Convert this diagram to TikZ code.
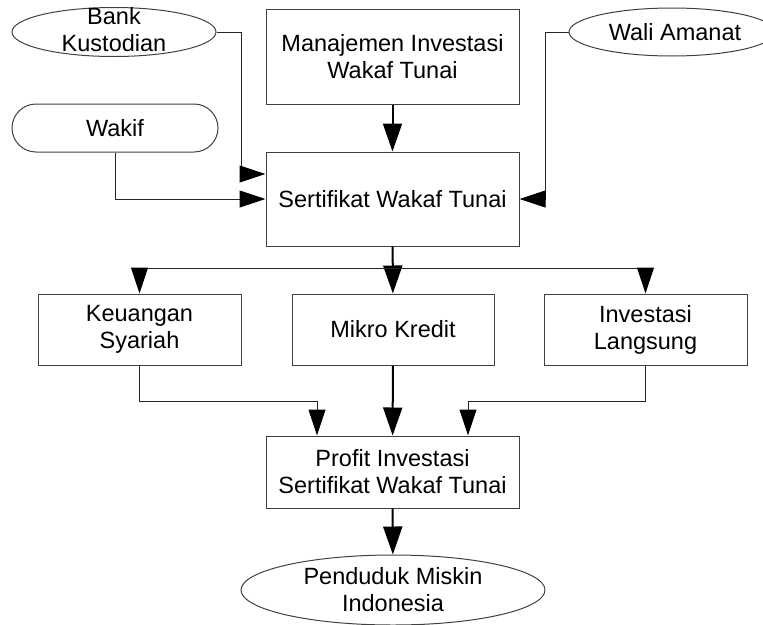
\documentclass[tikz,border=0pt]{standalone}
\usepackage{fontspec}
\setmainfont{Liberation Sans}
\usetikzlibrary{arrows.meta,shapes.geometric}
\begin{document}
\begin{tikzpicture}[x=1pt,y=-1pt,font=\fontsize{23.5}{27}\selectfont,align=center,
    box/.style={draw=black!75,line width=1pt,inner sep=0pt},
    oval/.style={ellipse,draw=black!75,line width=1pt,inner sep=0pt},
    sidearr/.style={draw=black!85,line width=1pt,-{Triangle[length=26pt,width=17pt,color=black]}},
    mainarr/.style={draw=black,line width=2pt,-{Triangle[length=28pt,width=19pt]}}]
    \useasboundingbox (0,0) rectangle (763,624);
% boxes
\node[box,minimum width=253,minimum height=95](man) at (392.5,56.5){Manajemen Investasi\\Wakaf Tunai};
\node[box,minimum width=253,minimum height=94](ser) at (392.5,199){Sertifikat Wakaf Tunai};
\node[box,minimum width=203,minimum height=71](keu) at (139.5,329.5){Keuangan\\Syariah};
\node[box,minimum width=202,minimum height=71](mik) at (393,329.5){Mikro Kredit};
\node[box,minimum width=203,minimum height=71](inv) at (645.5,329.5){Investasi\\Langsung};
\node[box,minimum width=253,minimum height=72](prof) at (392.5,472){Profit Investasi\\Sertifikat Wakaf Tunai};
\node[box,rounded corners=24pt,minimum width=206,minimum height=48](wakif) at (115,128){Wakif};
% ovals
\node[oval,minimum width=204,minimum height=49](bank) at (114,32){};
\node(banktxt) at (114,30){Bank\\Kustodian};
\node[oval,minimum width=206,minimum height=48](wali) at (672,32){};
\node(walitxt) at (675,32){Wali Amanat};
\node[oval,minimum width=304,minimum height=70](pend) at (393,590){};
\node(pendtxt) at (393,590){Penduduk Miskin\\Indonesia};
% connectors
\coordinate(bk) at (241,174);
\coordinate(wl) at (545,199);
\coordinate(split) at (393,268);
\coordinate(kin) at (317,401);
\coordinate(iin) at (468,401);
\draw[mainarr](man)--(ser);
\draw[sidearr](bank.east)-|(bk)--(ser.west|-bk);
\draw[sidearr](wakif.south)|-(ser.west);
\draw[sidearr](wali.west)-|(wl)--(ser.east);
\draw[mainarr](ser)--(mik);
\draw[sidearr](split)-|(keu.north);
\draw[sidearr](split)-|(inv.north);
\draw[sidearr](keu.south)|-(kin)--(kin|-prof.north);
\draw[mainarr](mik)--(prof);
\draw[sidearr](inv.south)|-(iin)--(iin|-prof.north);
\draw[mainarr](prof)--(pend);

\end{tikzpicture}
\end{document}
